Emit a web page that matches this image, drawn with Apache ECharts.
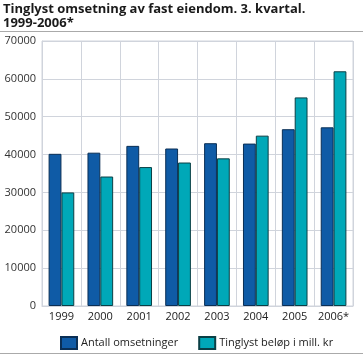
<!DOCTYPE html>
<html><head><meta charset="utf-8">
<script src="https://cdn.jsdelivr.net/npm/echarts@6/dist/echarts.min.js"></script>
<style>html,body{margin:0;padding:0;background:#fff}#c{width:363px;height:357px}</style>
</head><body><div id="c"></div>
<script>
var categories = ['1999','2000','2001','2002','2003','2004','2005','2006*'];
var antall = [40200, 40500, 42300, 41600, 43000, 42900, 46700, 47200];
var belop = [30000, 34200, 36700, 37900, 39000, 45000, 55100, 62000];
var seriesNames = ['Antall omsetninger', 'Tinglyst beløp i mill. kr'];
var yTicks = [0, 10000, 20000, 30000, 40000, 50000, 60000, 70000];

var chart = echarts.init(document.getElementById('c'), null, {renderer:'canvas'});
var font = '"Open Sans", sans-serif';
chart.setOption({
  animation:false,
  title:{text:'Tinglyst omsetning av fast eiendom. 3. kvartal.\n1999-2006*', left:3, top:0, padding:[2,0,0,0],
    textStyle:{fontFamily:font, fontSize:13, fontWeight:'bold', color:'#1a1a1a', lineHeight:14}},
  graphic:[
    {type:'line', shape:{x1:0,y1:31.5,x2:363,y2:31.5}, style:{stroke:'#aaaaaa', lineWidth:1}},
    {type:'line', shape:{x1:0,y1:353.5,x2:363,y2:353.5}, style:{stroke:'#aaaaaa', lineWidth:1}}
  ],
  legend:{top:336, left:60, padding:0, itemWidth:16, itemHeight:12, itemGap:20, icon:'rect',
    textStyle:{fontFamily:font, fontSize:11, color:'#222', padding:[0,0,0,-1]},
    data:seriesNames},
  grid:{left:42, right:10, top:41, bottom:51, show:true, borderColor:'#d0d4dc', borderWidth:1},
  xAxis:{type:'category', data:categories,
    axisLine:{show:true, lineStyle:{color:'#d0d4dc'}}, axisTick:{show:false},
    splitLine:{show:true, lineStyle:{color:'#d0d4dc'}},
    axisLabel:{interval:0, fontFamily:font, fontSize:11, color:'#222', margin:5}},
  yAxis:{type:'value', min:yTicks[0], max:yTicks[yTicks.length-1], interval:10000,
    axisLine:{show:true, lineStyle:{color:'#d0d4dc'}}, axisTick:{show:false},
    splitLine:{lineStyle:{color:'#d0d4dc'}},
    axisLabel:{fontFamily:font, fontSize:11, color:'#333', margin:6, formatter:function(v){return String(v);}}},
  series:[
    {name:seriesNames[0], type:'bar', data:antall, barGap:'0%', barCategoryGap:'34%',
      itemStyle:{color:'#0f5ba6', borderColor:'#0a2f55', borderWidth:1}},
    {name:seriesNames[1], type:'bar', data:belop,
      itemStyle:{color:'#00a8b8', borderColor:'#0a3f45', borderWidth:1}}
  ]
});
</script></body></html>
